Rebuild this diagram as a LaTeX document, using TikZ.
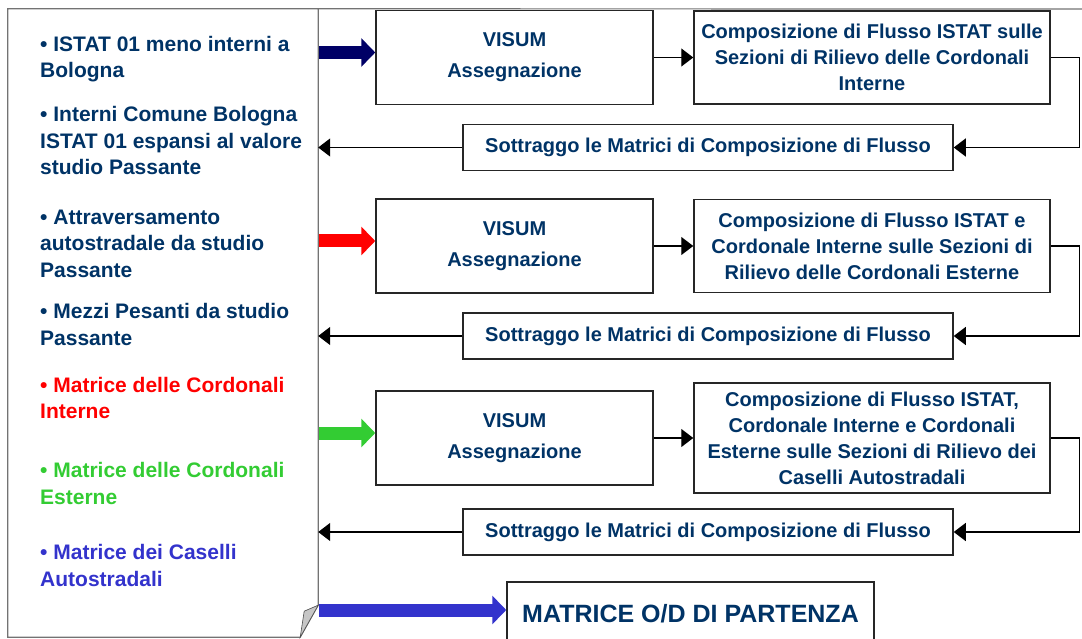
\documentclass[tikz,border=0pt]{standalone}
\usepackage{fontspec}
\setmainfont{Liberation Sans}
\usetikzlibrary{positioning, arrows.meta, calc}

\definecolor{navytext}{RGB}{0,51,102}
\definecolor{navyarrow}{RGB}{0,0,102}
\definecolor{redarrow}{RGB}{255,0,0}
\definecolor{greenarrow}{RGB}{51,204,51}
\definecolor{bluearrow}{RGB}{51,51,204}

\begin{document}
\begin{tikzpicture}[
                x=1pt, y=-1pt,
                >={Triangle[length=12pt,width=18pt]},
                procbox/.style={draw=black!85, line width=1.5pt, fill=white, align=center, text=navytext, inner sep=2pt, font=\fontsize{20}{26}\selectfont\bfseries},
                visum/.style={procbox, minimum width=277pt, minimum height=94pt, font=\fontsize{20}{31}\selectfont\bfseries},
                compo/.style={procbox, minimum width=356pt},
                subtract/.style={procbox, minimum width=490pt, minimum height=46pt},
                link/.style={->, line width=1.3pt},
                fat/.style={line width=13pt, -{Triangle[length=14pt,width=28pt]}},
                frame/.style={draw=black!55, line width=1.2pt},
                listitem/.style={anchor=west, align=left, inner sep=0pt, font=\fontsize{21}{26.5}\selectfont\bfseries},
            ]
                \useasboundingbox (0,0) rectangle (1082,639);

                % Draw the input list with the folded corner
                \node[minimum width=310pt, minimum height=628pt, inner sep=0pt] (notes) at (163,323) {};
                \draw[frame] (notes.north west) -- (notes.north east) -- ($(notes.south east)+(0,-32)$)
                    -- ($(notes.south east)+(-18,0)$) -- (notes.south west) -- cycle;
                \draw[frame] (notes.north east) -- (1082,9);
                \filldraw[fill=gray!45, draw=black!70, line width=0.6pt] ($(notes.south east)+(0,-32)$)
                    -- ($(notes.south east)+(-18,0)$) -- ($(notes.south east)+(-14,-26)$) -- cycle;

                \foreach \n/\y/\c/\t in {1/59/navytext/{• ISTAT 01 meno interni a\\Bologna},
                        2/140.5/navytext/{• Interni Comune Bologna\\ISTAT 01 espansi al valore\\studio Passante},
                        3/243.5/navytext/{• Attraversamento\\autostradale da studio\\Passante},
                        4/324.5/navytext/{• Mezzi Pesanti da studio\\Passante},
                        5/398/redarrow/{• Matrice delle Cordonali\\Interne},
                        6/483.5/greenarrow/{• Matrice delle Cordonali\\Esterne},
                        7/565.5/bluearrow/{• Matrice dei Caselli\\Autostradali}}
                    \node[listitem, text=\c] (item-\n) at (40,\y) {\t};

                % Draw the assignment steps
                \foreach \n/\y in {1/57.5, 2/246, 3/438}
                    \node[visum] (visum-\n) at (514.5,\y) {VISUM\\Assegnazione};

                \node[compo, minimum height=93pt] (comp-1) at (872,57.5)
                    {Composizione di Flusso ISTAT sulle\\Sezioni di Rilievo delle Cordonali\\Interne};
                \node[compo, minimum height=93pt] (comp-2) at (872,246)
                    {Composizione di Flusso ISTAT e\\Cordonale Interne sulle Sezioni di\\Rilievo delle Cordonali Esterne};
                \node[compo, minimum height=110pt] (comp-3) at (872,438)
                    {Composizione di Flusso ISTAT,\\Cordonale Interne e Cordonali\\Esterne sulle Sezioni di Rilievo dei\\Caselli Autostradali};

                \foreach \n/\y in {1/147.5, 2/336, 3/532}
                    \node[subtract] (sub-\n) at (708,\y) {Sottraggo le Matrici di Composizione di Flusso};

                \node[procbox, minimum width=367pt, minimum height=64pt, font=\fontsize{25}{30}\selectfont\bfseries] (result) at (690.5,614) {MATRICE O/D DI PARTENZA};

                % Connect the steps of each row
                \foreach \n in {1,2,3} {
                    \draw[link] (visum-\n.east) -- (comp-\n.west);
                    \draw[link] (comp-\n.east) -- ++(29,0) |- (sub-\n.east);
                    \draw[link] (sub-\n.west) -- (sub-\n.west -| notes.east);
                }

                % Thick arrows from the list
                \foreach \n/\c in {1/navyarrow, 2/redarrow, 3/greenarrow}
                    \draw[fat, color=\c] ($(notes.east |- visum-\n.west)+(0.6,-5)$) -- ($(visum-\n.west)+(0,-5)$);
                \draw[fat, color=bluearrow] ($(notes.east |- result.west)+(0.6,-4)$) -- ($(result.west)+(0,-4)$);
            \end{tikzpicture}
\end{document}
